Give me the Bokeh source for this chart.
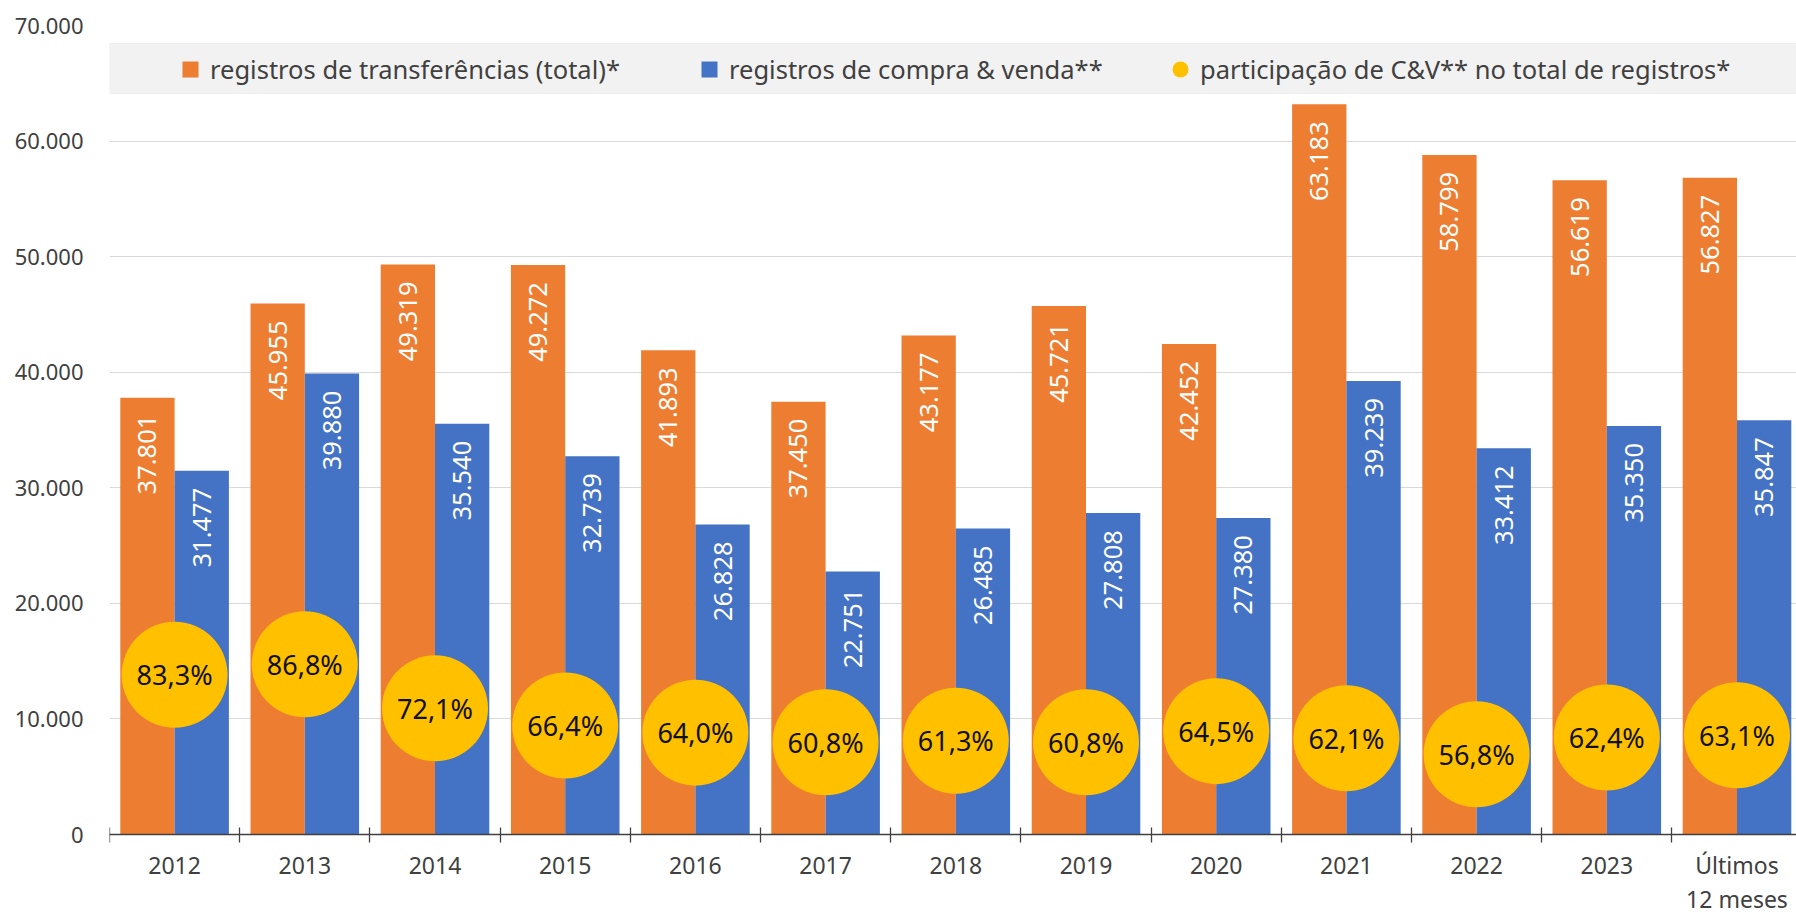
from math import pi
from bokeh.plotting import figure
from bokeh.models import (ColumnDataSource, Range1d, FixedTicker, Legend,
                          LegendItem, BoxAnnotation, LinearAxis)
from bokeh.core.properties import value
from bokeh.embed import file_html
from bokeh.resources import INLINE

# ---------------- data ----------------
categories = ["2012", "2013", "2014", "2015", "2016", "2017", "2018",
              "2019", "2020", "2021", "2022", "2023", "Últimos"]
last_category_second_line = "12 meses"
total_transfers = [37801, 45955, 49319, 49272, 41893, 37450, 43177,
                   45721, 42452, 63183, 58799, 56619, 56827]
purchase_sale = [31477, 39880, 35540, 32739, 26828, 22751, 26485,
                 27808, 27380, 39239, 33412, 35350, 35847]
share_pct = [83.3, 86.8, 72.1, 66.4, 64.0, 60.8, 61.3,
             60.8, 64.5, 62.1, 56.8, 62.4, 63.1]
y_ticks = [0, 10000, 20000, 30000, 40000, 50000, 60000, 70000]
share_axis = (0.30, 3.00)        # hidden secondary scale: value at 0 and at top

label_total = "registros de transferências (total)*"
label_cv = "registros de compra & venda**"
label_share = "participação de C&V** no total de registros*"

# ---------------- style ----------------
ORANGE = "#ED7D31"
BLUE = "#4472C4"
YELLOW = "#FFC000"
TXT = "#404040"
FONT = "Noto Sans"

W, H = 1796, 917
FRAME_LEFT, FRAME_TOP = 109, 25
ZERO_PX = 809                    # frame top -> zero line
BELOW_PX = H - FRAME_TOP - ZERO_PX   # room under the zero line (axis labels)
CAT_PX = 130.2
BAR_W = 0.417

n = len(categories)
centers = [i + 0.5 for i in range(n)]
fmt_int = lambda v: f"{v:,}".replace(",", ".")
fmt_pct = lambda v: f"{v:.1f}".replace(".", ",") + "%"

src = ColumnDataSource(dict(
    xc=centers,
    xo=[c - BAR_W / 2 for c in centers],
    xb=[c + BAR_W / 2 for c in centers],
    total=total_transfers,
    cv=purchase_sale,
    share=[v / 100 for v in share_pct],
    total_lbl=[fmt_int(v) for v in total_transfers],
    cv_lbl=[fmt_int(v) for v in purchase_sale],
    share_lbl=[fmt_pct(v) for v in share_pct],
))

y_max = y_ticks[-1]
y_min = -y_max * BELOW_PX / ZERO_PX
s_lo, s_hi = share_axis
s_min = s_lo - (s_hi - s_lo) * BELOW_PX / ZERO_PX

p = figure(width=W, height=H,
           x_range=Range1d(0, (W - FRAME_LEFT) / CAT_PX),
           y_range=Range1d(y_min, y_max),
           output_backend="svg", toolbar_location=None,
           min_border_left=FRAME_LEFT, min_border_right=0,
           min_border_top=FRAME_TOP, min_border_bottom=0)
p.extra_y_ranges = {"pct": Range1d(s_min, s_hi)}
p.outline_line_color = None
p.background_fill_color = "white"
p.xgrid.visible = False
p.ygrid.grid_line_color = "#d9d9d9"
p.ygrid.grid_line_width = 1

# y axis
ya = p.yaxis[0]
ya.ticker = FixedTicker(ticks=y_ticks)
ya.major_label_overrides = {t: fmt_int(t) for t in y_ticks}
ya.axis_line_color = None
ya.major_tick_line_color = None
ya.minor_tick_line_color = None
ya.major_label_standoff = 20
ya.major_label_text_font = FONT
ya.major_label_text_font_size = "22px"
ya.major_label_text_color = TXT

# x axis at y = 0: labels at centres, tick marks at category boundaries
xa = p.xaxis[0]
xa.fixed_location = 0
xa.ticker = FixedTicker(ticks=centers, minor_ticks=list(range(n + 1)))
xa.major_label_overrides = {c: lab for c, lab in zip(centers, categories)}
xa.axis_line_color = TXT
xa.axis_line_width = 1.3
xa.major_tick_line_color = None
xa.major_tick_in = 0
xa.major_tick_out = 0
xa.minor_tick_line_color = TXT
xa.minor_tick_line_width = 1.3
xa.minor_tick_in = 7
xa.minor_tick_out = 8
xa.major_label_standoff = 6
xa.major_label_text_font = FONT
xa.major_label_text_font_size = "23px"
xa.major_label_text_color = TXT

# second line of the last category label
xa2 = LinearAxis(fixed_location=0, ticker=FixedTicker(ticks=[centers[-1]]),
                 major_label_overrides={centers[-1]: last_category_second_line},
                 axis_line_color=None, major_tick_line_color=None,
                 minor_tick_line_color=None, major_tick_in=0, major_tick_out=0,
                 minor_tick_in=0, minor_tick_out=0,
                 major_label_standoff=48, major_label_text_font=FONT,
                 major_label_text_font_size="23px", major_label_text_color=TXT)
p.add_layout(xa2, "below")

px_per_unit = ZERO_PX / y_max

# legend background band
p.add_layout(BoxAnnotation(top=y_max - 18 / px_per_unit,
                           bottom=y_max - 68 / px_per_unit,
                           fill_color="#f2f2f2", fill_alpha=1,
                           line_color="#d9d9d9", line_width=1.2))

# bars
p.vbar(x="xo", top="total", bottom=0, width=BAR_W, source=src,
       fill_color=ORANGE, line_color=None)
p.vbar(x="xb", top="cv", bottom=0, width=BAR_W, source=src,
       fill_color=BLUE, line_color=None)

# share circles
circ = p.scatter(x="xc", y="share", y_range_name="pct", source=src, size=106,
                 marker="circle", fill_color=YELLOW, line_color=None)

# bar labels
for xcol, ycol, lcol in (("xo", "total", "total_lbl"), ("xb", "cv", "cv_lbl")):
    p.text(x=xcol, y=ycol, text=lcol, source=src, angle=pi / 2,
           text_align="right", text_baseline="middle", y_offset=17,
           text_color="white", text_font=value(FONT), text_font_size="25.5px")

# share labels
p.text(x="xc", y="share", text="share_lbl", y_range_name="pct", source=src,
       text_align="center", text_baseline="middle", text_color="#111111",
       text_font=value(FONT), text_font_size="27px")

# legend proxies (zero-size square markers, only used for the legend swatch)
sq_o = p.scatter(x="xo", y="total", source=src, marker="square", size=0,
                 fill_color=ORANGE, line_color=None)
sq_b = p.scatter(x="xb", y="cv", source=src, marker="square", size=0,
                 fill_color=BLUE, line_color=None)

LEG_Y = (H - FRAME_TOP) - 64     # legend row centred ~44px below frame top


def add_legend(label, rend, x):
    lg = Legend(items=[LegendItem(label=label, renderers=[rend])],
                location=(x, LEG_Y), orientation="horizontal",
                glyph_width=40, glyph_height=40, label_height=40,
                label_standoff=0, padding=0, margin=0, spacing=0,
                border_line_color=None, background_fill_alpha=0,
                label_text_font=FONT, label_text_font_size="25.5px",
                label_text_color=TXT)
    p.add_layout(lg)


add_legend(label_total, sq_o, 61)
add_legend(label_cv, sq_b, 580)
add_legend(label_share, circ, 1051)

open("out.html", "w").write(file_html(p, INLINE))
